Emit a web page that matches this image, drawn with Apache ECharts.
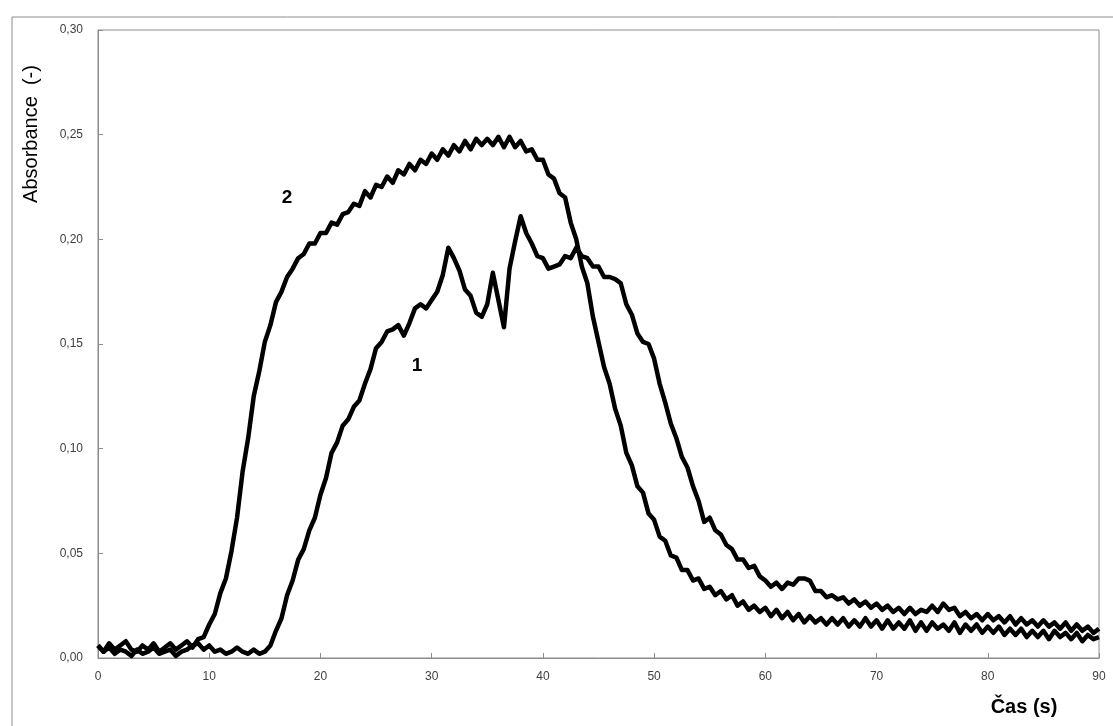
<!DOCTYPE html>
<html>
<head>
<meta charset="utf-8">
<script src="https://cdn.jsdelivr.net/npm/echarts@6/dist/echarts.min.js"></script>
<style>
html,body{margin:0;padding:0;background:#fff;}
#chart{width:1113px;height:726px;}
</style>
</head>
<body>
<div id="chart"></div>
<script>
// time grid (s), 0..90 step 0.5
const time = Array.from({length: 181}, (_, i) => i * 0.5);

// Curve 1 absorbance
const curve1 = [
  0.006,0.003,0.005,0.002,0.004,0.003,0.001,0.004,0.002,0.003,
  0.005,0.002,0.003,0.004,0.001,0.003,0.004,0.006,0.007,0.004,
  0.006,0.003,0.004,0.002,0.003,0.005,0.003,0.002,0.004,0.002,
  0.003,0.006,0.013,0.019,0.030,0.037,0.047,0.052,0.061,0.067,
  0.078,0.086,0.098,0.103,0.111,0.114,0.120,0.123,0.131,0.138,
  0.148,0.151,0.156,0.157,0.159,0.154,0.160,0.167,0.169,0.167,
  0.171,0.175,0.183,0.196,0.191,0.185,0.176,0.173,0.165,0.163,
  0.169,0.184,0.171,0.158,0.186,0.199,0.211,0.203,0.198,0.192,
  0.191,0.186,0.187,0.188,0.192,0.191,0.196,0.192,0.191,0.187,
  0.187,0.182,0.182,0.181,0.179,0.169,0.164,0.155,0.151,0.150,
  0.143,0.131,0.122,0.112,0.105,0.096,0.091,0.082,0.075,0.065,
  0.067,0.061,0.059,0.054,0.052,0.047,0.047,0.043,0.044,0.039,
  0.037,0.034,0.036,0.033,0.036,0.035,0.038,0.038,0.037,0.032,
  0.032,0.029,0.030,0.028,0.029,0.026,0.028,0.025,0.027,0.024,
  0.026,0.023,0.025,0.022,0.024,0.021,0.024,0.021,0.023,0.022,
  0.025,0.022,0.026,0.023,0.024,0.020,0.022,0.019,0.021,0.018,
  0.021,0.018,0.020,0.017,0.020,0.016,0.019,0.016,0.018,0.015,
  0.018,0.015,0.017,0.014,0.017,0.013,0.016,0.013,0.015,0.012,
  0.014
];

// Curve 2 absorbance
const curve2 = [
  0.006,0.003,0.007,0.004,0.006,0.008,0.004,0.003,0.006,0.004,
  0.007,0.003,0.005,0.007,0.004,0.006,0.008,0.005,0.009,0.010,
  0.016,0.021,0.031,0.038,0.051,0.067,0.089,0.105,0.125,0.137,
  0.151,0.159,0.170,0.175,0.182,0.186,0.191,0.193,0.198,0.198,
  0.203,0.203,0.208,0.207,0.212,0.213,0.217,0.216,0.223,0.220,
  0.226,0.225,0.230,0.227,0.233,0.231,0.236,0.233,0.238,0.236,
  0.241,0.238,0.243,0.240,0.245,0.242,0.247,0.243,0.248,0.245,
  0.248,0.245,0.249,0.244,0.249,0.244,0.247,0.242,0.243,0.238,
  0.238,0.231,0.229,0.222,0.220,0.208,0.200,0.187,0.179,0.163,
  0.151,0.139,0.131,0.119,0.111,0.098,0.092,0.082,0.079,0.069,
  0.066,0.058,0.056,0.049,0.048,0.042,0.042,0.037,0.038,0.033,
  0.034,0.030,0.032,0.028,0.030,0.025,0.027,0.023,0.025,0.022,
  0.024,0.020,0.023,0.019,0.022,0.018,0.021,0.017,0.020,0.017,
  0.019,0.016,0.019,0.016,0.019,0.015,0.018,0.015,0.019,0.015,
  0.018,0.014,0.018,0.014,0.017,0.014,0.018,0.013,0.017,0.013,
  0.017,0.014,0.016,0.013,0.017,0.012,0.016,0.013,0.016,0.012,
  0.015,0.012,0.015,0.011,0.014,0.011,0.014,0.010,0.013,0.010,
  0.013,0.009,0.013,0.010,0.012,0.009,0.012,0.008,0.011,0.009,
  0.010
];

const yTitle = 'Absorbance  (-)';
const xTitle = 'Čas (s)';
const curveLabels = ['1', '2'];

const chart = echarts.init(document.getElementById('chart'), null, {renderer: 'canvas'});
const toPairs = vals => time.map((t, i) => [t, vals[i]]);
const axisColor = '#8c8c8c';
const labelColor = '#404040';
const font = 'Liberation Sans, Arial, sans-serif';

chart.setOption({
  animation: false,
  backgroundColor: '#ffffff',
  grid: {left: 98, right: 14, top: 30, bottom: 68, show: true, borderColor: axisColor, borderWidth: 1},
  xAxis: {
    type: 'value', min: 0, max: 90, interval: 10,
    axisLine: {show: true, lineStyle: {color: axisColor}},
    axisTick: {show: true, inside: true, length: 5, lineStyle: {color: axisColor}},
    splitLine: {show: false},
    axisLabel: {color: labelColor, fontSize: 12, fontFamily: font, margin: 13}
  },
  yAxis: {
    type: 'value', min: 0, max: 0.3, interval: 0.05,
    axisLine: {show: true, lineStyle: {color: axisColor}},
    axisTick: {show: true, inside: true, length: 5, lineStyle: {color: axisColor}},
    splitLine: {show: false},
    axisLabel: {color: labelColor, fontSize: 12, fontFamily: font, margin: 15,
      formatter: v => v.toFixed(2).replace('.', ',')}
  },
  series: [
    {type: 'line', name: '1', data: toPairs(curve1), showSymbol: false, symbol: 'none',
      lineStyle: {color: '#000', width: 4.5, join: 'round'}, z: 3},
    {type: 'line', name: '2', data: toPairs(curve2), showSymbol: false, symbol: 'none',
      lineStyle: {color: '#000', width: 4.5, join: 'round'}, z: 4}
  ],
  graphic: [
    {type: 'rect', left: 9.5, top: 14.5, silent: true, z: -1,
      shape: {x: 0, y: 0, width: 1200, height: 800},
      style: {fill: 'none', stroke: axisColor, lineWidth: 1}},
    {type: 'text', x: 31, y: 134, rotation: Math.PI / 2, silent: true,
      style: {text: yTitle, fontSize: 20, fontFamily: font, fill: '#000',
        align: 'center', verticalAlign: 'middle'}},
    {type: 'text', x: 1024, y: 707, silent: true,
      style: {text: xTitle, fontSize: 20, fontWeight: 'bold', fontFamily: font, fill: '#000',
        align: 'center', verticalAlign: 'middle'}},
    {type: 'text', x: 417, y: 366, silent: true,
      style: {text: curveLabels[0], fontSize: 19, fontWeight: 'bold', fontFamily: font, fill: '#000',
        align: 'center', verticalAlign: 'middle'}},
    {type: 'text', x: 287, y: 198, silent: true,
      style: {text: curveLabels[1], fontSize: 19, fontWeight: 'bold', fontFamily: font, fill: '#000',
        align: 'center', verticalAlign: 'middle'}}
  ]
});
</script>
</body>
</html>
